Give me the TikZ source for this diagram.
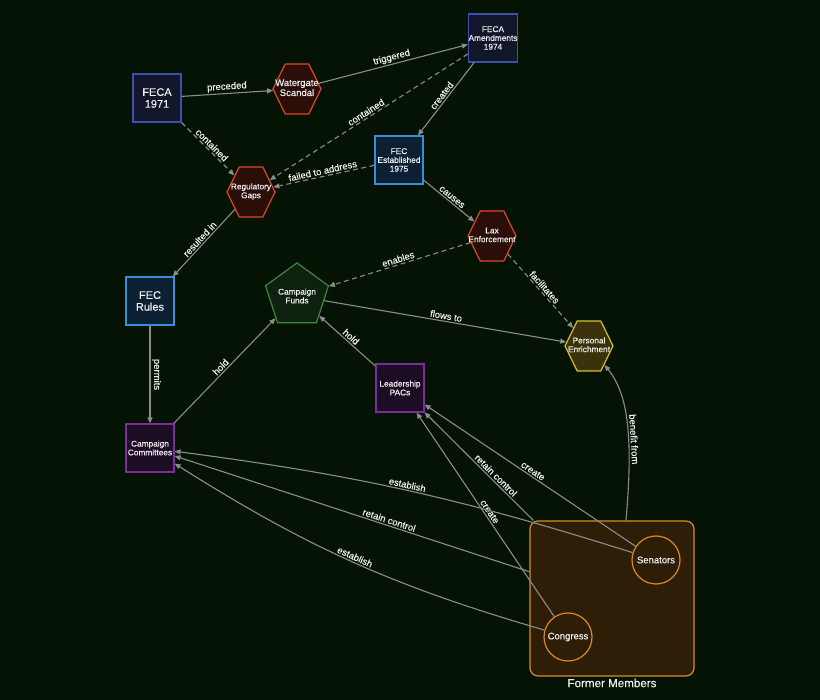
\documentclass[tikz,border=0pt]{standalone}
\usepackage{fontspec}
\setmainfont{Liberation Sans}[BoldFont={Liberation Sans},BoldFeatures={FakeBold=0.35}]
\usetikzlibrary{arrows.meta,shapes.geometric,shapes.symbols}
\definecolor{bgcol}{RGB}{5,19,5}
\definecolor{edgecol}{RGB}{140,140,140}
\definecolor{txtcol}{RGB}{240,240,240}
\definecolor{navyfill}{RGB}{18,22,42}
\definecolor{navyline}{RGB}{60,80,175}
\definecolor{bluefill}{RGB}{12,32,52}
\definecolor{blueline}{RGB}{60,140,220}
\definecolor{redfill}{RGB}{44,14,8}
\definecolor{redline}{RGB}{215,72,44}
\definecolor{yelfill}{RGB}{58,50,10}
\definecolor{yelline}{RGB}{212,190,44}
\definecolor{grnfill}{RGB}{14,32,14}
\definecolor{grnline}{RGB}{62,135,62}
\definecolor{purfill}{RGB}{28,12,36}
\definecolor{purline}{RGB}{125,45,155}
\definecolor{orgfill}{RGB}{46,30,8}
\definecolor{orgline}{RGB}{215,140,35}
\newcommand\hexlab[1]{\makebox[0pt]{\begin{tabular}{@{}c@{}}#1\end{tabular}}}
\begin{document}
\begin{tikzpicture}[x=1pt,y=-1pt,
    every node/.style={text=txtcol},
    small/.style={font=\bfseries\fontsize{8.3}{8.8}\selectfont},
    box/.style={rectangle,draw,line width=1.2pt,minimum size=48pt,inner sep=0pt,align=center,small},
    navybox/.style={box,fill=navyfill,draw=navyline},
    bluebox/.style={box,fill=bluefill,draw=blueline},
    purbox/.style={box,fill=purfill,draw=purline},
    hexa/.style={signal,signal to=east and west,signal pointer angle=128,line width=1.2pt,
      minimum width=48pt,minimum height=50pt,inner sep=0pt,small},
    redhex/.style={hexa,fill=redfill,draw=redline},
    yelhex/.style={hexa,fill=yelfill,draw=yelline},
    penta/.style={regular polygon,regular polygon sides=5,minimum size=51pt,inner sep=0pt,
      draw=grnline,fill=grnfill,line width=1.2pt,align=center,small},
    member/.style={circle,minimum size=48pt,inner sep=0pt,draw=orgline,fill=orgfill,
      line width=1.2pt,font=\bfseries\fontsize{9.5}{10}\selectfont},
    cluster/.style={rectangle,rounded corners=8pt,draw=orgline,fill=orgfill,line width=1.2pt,
      minimum width=164pt,minimum height=155pt},
    arr/.style={draw=edgecol,line width=1.1pt,-{Triangle[length=6pt,width=5pt]}},
    dasharr/.style={arr,dash pattern=on 5pt off 3.5pt},
    lbl/.style={sloped,above,inner sep=1.5pt,font=\bfseries\fontsize{9.5}{10}\selectfont}]
  \fill[bgcol] (0,0) rectangle (820,700);
  \useasboundingbox (0,0) rectangle (820,700);
  % events and laws
  \node[navybox,font=\bfseries\fontsize{11}{11.8}\selectfont] (feca71) at (157,98) {FECA\\1971};
  \node[redhex,font=\bfseries\fontsize{9.5}{10}\selectfont] (watergate) at (297,89) {\hexlab{Watergate\\Scandal}};
  \node[navybox] (feca74) at (493,38) {FECA\\Amendments\\1974};
  \node[bluebox] (fec75) at (399,160) {FEC\\Established\\1975};
  \node[redhex] (gaps) at (251,192) {\hexlab{Regulatory\\Gaps}};
  \node[redhex] (lax) at (492,236) {\hexlab{Lax\\Enforcement}};
  \node[bluebox,font=\bfseries\fontsize{11}{11.8}\selectfont] (rules) at (150,301) {FEC\\Rules};
  \node[penta] (funds) at (297,296) {Campaign\\Funds};
  \node[yelhex] (enrich) at (589,346) {\hexlab{Personal\\Enrichment}};
  \node[purbox] (pacs) at (400,388) {Leadership\\PACs};
  \node[purbox] (committees) at (150,448) {Campaign\\Committees};
  % former members
  \node[cluster] (former) at (612,598.5) {};
  \node[font=\bfseries\fontsize{11.6}{12}\selectfont] (formerlbl) at (612,683) {Former Members};
  \node[member] (senators) at (656,560) {Senators};
  \node[member] (congress) at (568,637) {Congress};
  % connectors
  \draw[arr] (feca71) -- node[lbl] {preceded} (watergate);
  \draw[arr] (watergate) -- node[lbl] {triggered} (feca74);
  \draw[dasharr] (feca74) -- node[lbl] {contained} (gaps);
  \draw[dasharr] (feca71) -- node[lbl] {contained} (gaps);
  \draw[arr] (feca74) -- node[lbl] {created} (fec75);
  \draw[dasharr] (fec75) -- node[lbl] {failed to address} (gaps);
  \draw[arr] (fec75) -- node[lbl] {causes} (lax);
  \draw[arr] (gaps) -- node[lbl] {resulted in} (rules);
  \draw[dasharr] (lax) -- node[lbl] {enables} (funds);
  \draw[dasharr] (lax) -- node[lbl] {facilitates} (enrich);
  \draw[arr] (funds) -- node[lbl] {flows to} (enrich);
  \draw[arr] (rules) -- node[lbl] {permits} (committees);
  \draw[arr] (committees) -- node[lbl] {hold} (funds);
  \draw[arr] (pacs) -- node[lbl] {hold} (funds);
  \draw[arr] ([xshift=14pt]former.north) .. controls (633,440) and (629,395) .. node[lbl,pos=0.4] {benefit from} (enrich);
  \draw[arr] (senators) -- node[lbl] {create} (pacs);
  \draw[arr] (former) -- node[lbl,pos=0.38] {retain control} (pacs);
  \draw[arr] (congress) -- node[lbl] {create} (pacs);
  \draw[arr] (senators) to[bend right=5] node[lbl] {establish} (committees);
  \draw[arr] (former) -- node[lbl,pos=0.4] {retain control} (committees);
  \draw[arr] (congress) to[bend left=8] node[lbl] {establish} (committees);
\end{tikzpicture}
\end{document}
